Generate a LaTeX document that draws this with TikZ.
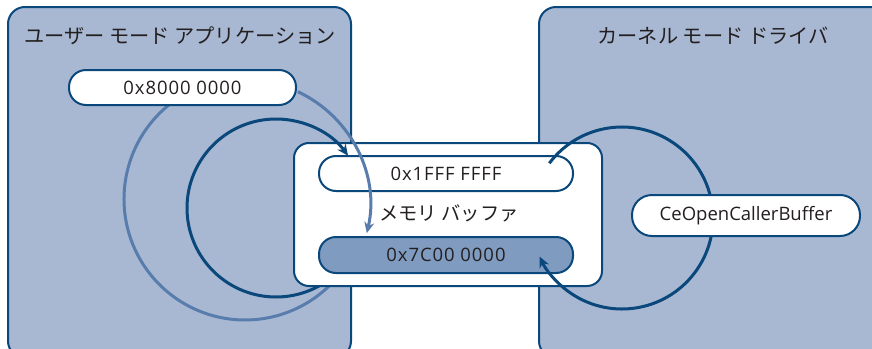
\documentclass[tikz,border=0pt]{standalone}
\usepackage{fontspec}
\setmainfont{Noto Sans CJK JP}
\newfontfamily\latinfont{Open Sans}
\newfontfamily\hexfont[LetterSpace=5]{Open Sans}
\usetikzlibrary{arrows.meta}
\definecolor{panelfill}{RGB}{168,184,210}
\definecolor{darkblue}{RGB}{10,72,124}
\definecolor{lightblue}{RGB}{88,125,172}
\definecolor{barfill}{RGB}{128,155,192}
\definecolor{txt}{RGB}{35,31,32}
\tikzset{
  panel/.style={draw=darkblue, line width=2pt, fill=panelfill, rounded corners=17pt},
  midbox/.style={draw=darkblue, line width=2pt, fill=white, rounded corners=15pt},
  pill/.style={draw=darkblue, line width=2pt, fill=white, rounded corners=17pt, inner sep=0pt, text=txt, font=\hexfont\fontsize{18.5}{20}\selectfont},
  darkline/.style={draw=darkblue, line width=3pt},
  lightline/.style={draw=lightblue, line width=3pt},
  tip/.style={-{Stealth[length=11pt,width=10pt]}},
  title/.style={text=txt, font=\fontsize{20.2}{23}\selectfont, inner sep=0pt},
}
\begin{document}
\begin{tikzpicture}[x=1pt,y=-1pt]
\useasboundingbox (0,0) rectangle (872,348);
\clip (0,0) rectangle (872,348);
\fill[white] (0,0) rectangle (872,348);
% panels
\draw[panel] (8,7) rectangle (351,358);
\draw[panel] (539,7) rectangle (892,358);
\node[title] (tl) at (180,36) {ユーザー モード アプリケーション};
\node[title] (tr) at (713,36) {カーネル モード ドライバ};
% circle centres
\coordinate (cA) at (245,199);
\coordinate (cB) at (245,205);
\coordinate (cD) at (276,208);
\coordinate (cR) at (622,218);
% lower parts (behind the memory box)
\draw[lightline] ([shift={(236:121)}]cA) arc[start angle=236, end angle=40, radius=121];
\draw[darkline] ([shift={(50:89)}]cD) arc[start angle=50, end angle=180, radius=89];
% memory box
\draw[midbox] (294,143) rectangle (602,286);
\node[pill, minimum width=254pt, minimum height=35pt] (top) at (446,173.5) {0x1FFF FFFF};
\node[pill, fill=barfill, minimum width=254pt, minimum height=36pt] (bot) at (446,255) {0x7C00 0000};
\node[text=txt, font=\fontsize{19.3}{22}\selectfont, inner sep=0pt] (mem) at (449,213) {メモリ バッファ};
% upper parts (over the memory box)
\draw[darkline, tip] ([shift={(180:89)}]cD) arc[start angle=180, end angle=324, radius=89];
\draw[lightline, tip] ([shift={(295:125)}]cB) arc[start angle=295, end angle=373, radius=125];
\draw[darkline, tip] ([shift={(217:91)}]cR) arc[start angle=217, end angle=515, radius=91];
% nodes on top
\node[pill, minimum width=227pt, minimum height=35pt] (n8) at (182.5,87.5) {0x8000 0000};
\node[pill, font=\latinfont\fontsize{18.5}{20}\selectfont, rounded corners=20pt, minimum width=228pt, minimum height=41pt] (ce) at (746,215.5) {CeOpenCallerBuffer};
\end{tikzpicture}
\end{document}
